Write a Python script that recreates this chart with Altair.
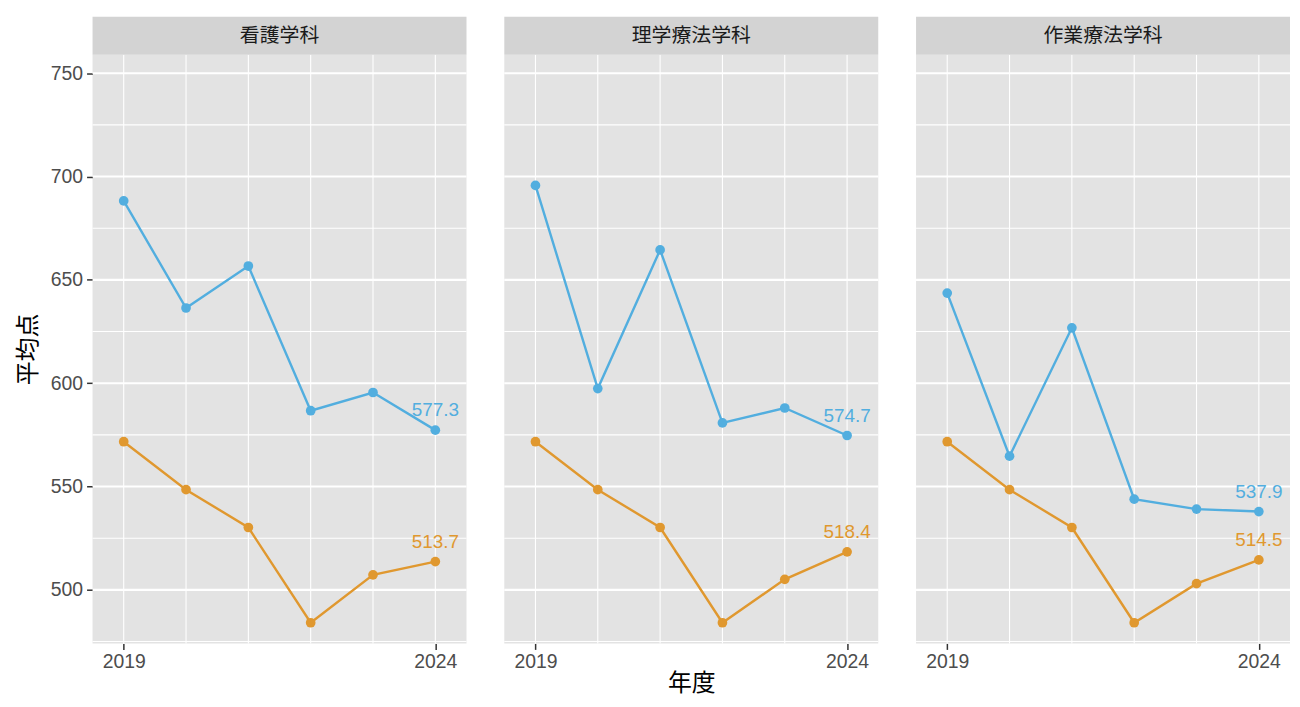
import altair as alt
import pandas as pd

# ---- data ----
years = [2019, 2020, 2021, 2022, 2023, 2024]
departments = ["看護学科", "理学療法学科", "作業療法学科"]

nursing_dept = [688.2, 636.4, 656.7, 586.7, 595.5, 577.3]
pt_dept = [695.7, 597.4, 664.5, 580.8, 588.0, 574.7]
ot_dept = [643.6, 564.7, 626.8, 543.9, 539.1, 537.9]

nursing_base = [571.7, 548.5, 530.2, 484.1, 507.3, 513.7]
pt_base = [571.7, 548.5, 530.2, 484.1, 505.1, 518.4]
ot_base = [571.7, 548.5, 530.2, 484.1, 503.0, 514.5]

series_names = ["学科", "全体"]
series_colors = ["#52AEDF", "#E0982F"]

y_major = [500, 550, 600, 650, 700, 750]
y_minor = [475, 525, 575, 625, 675, 725]
x_ticks = [2019, 2024]

dept_values = {"看護学科": nursing_dept, "理学療法学科": pt_dept, "作業療法学科": ot_dept}
base_values = {"看護学科": nursing_base, "理学療法学科": pt_base, "作業療法学科": ot_base}

rows = []
for d in departments:
    for yr, v in zip(years, dept_values[d]):
        rows.append({"dept": d, "year": yr, "score": v, "series": series_names[0]})
    for yr, v in zip(years, base_values[d]):
        rows.append({"dept": d, "year": yr, "score": v, "series": series_names[1]})
df = pd.DataFrame(rows)

PW, PH = 376, 592
STRIP = 38
CJK = "Noto Sans CJK JP"
LAT = "Liberation Sans"

ys = alt.Scale(domain=[474.1, 759.0], nice=False, zero=False)
xs = alt.Scale(domain=[2018.5, 2024.5], nice=False, zero=False)
cs = alt.Scale(domain=series_names, range=series_colors)


def panel(i, d):
    sub = df[df.dept == d]
    if i == 0:
        yaxis = alt.Axis(values=y_major, title="平均点", titleFont=CJK, titleFontSize=24,
                         titleFontWeight="normal", titleColor="#000000", titlePadding=10,
                         labelFont=LAT, labelFontSize=19.5, labelColor="#4D4D4D",
                         labelPadding=4, tickSize=6, tickWidth=1.5, tickColor="#333333",
                         domain=False, grid=False)
    else:
        yaxis = None
    xaxis = alt.Axis(values=x_ticks, format="d", title=("年度" if i == 1 else None),
                     titleFont=CJK, titleFontSize=24, titleFontWeight="normal",
                     titleColor="#000000", titlePadding=1,
                     labelFont=LAT, labelFontSize=19.5, labelColor="#4D4D4D",
                     labelPadding=3, labelFlush=False, tickSize=6, tickWidth=1.5,
                     tickColor="#333333", domain=False, grid=False)

    def X(f):
        return alt.X(f, scale=xs, axis=xaxis)

    def Y(f):
        return alt.Y(f, scale=ys, axis=yaxis)

    gmin = alt.Chart(pd.DataFrame({"g": y_minor})).mark_rule(
        color="white", strokeWidth=1.1).encode(y=Y("g:Q"))
    gmaj = alt.Chart(pd.DataFrame({"g": y_major})).mark_rule(
        color="white", strokeWidth=2.1).encode(y=Y("g:Q"))
    gx = alt.Chart(pd.DataFrame({"yr": years})).mark_rule(
        color="white", strokeWidth=1.1).encode(x=X("yr:Q"))

    base = alt.Chart(sub)
    lines = base.mark_line(strokeWidth=2.4).encode(
        x=X("year:Q"), y=Y("score:Q"),
        color=alt.Color("series:N", scale=cs, legend=None), detail="series:N")
    pts = base.mark_point(filled=True, size=95, opacity=1).encode(
        x=X("year:Q"), y=Y("score:Q"),
        color=alt.Color("series:N", scale=cs, legend=None))
    labels = alt.Chart(sub[sub.year == years[-1]]).mark_text(
        dy=-20, fontSize=19, font=LAT).encode(
        x=X("year:Q"), y=Y("score:Q"),
        text=alt.Text("score:Q", format=".1f"),
        color=alt.Color("series:N", scale=cs, legend=None))

    strip_df = pd.DataFrame({"dept": [d]})
    strip = alt.Chart(strip_df).mark_rect(color="#D3D3D3").encode(
        x=alt.value(0), x2=alt.value(PW), y=alt.value(-STRIP), y2=alt.value(0))
    strip_text = alt.Chart(strip_df).mark_text(
        font=CJK, fontSize=20, color="#1A1A1A", baseline="middle").encode(
        x=alt.value(PW / 2), y=alt.value(-STRIP / 2), text="dept:N")

    return alt.layer(gmin, gmaj, gx, lines, pts, labels, strip, strip_text).properties(
        width=PW, height=PH)


chart = alt.hconcat(*[panel(i, d) for i, d in enumerate(departments)], spacing=34).properties(
    padding={"left": 8, "top": 7, "right": 0, "bottom": 0},
    background="white",
).configure_view(stroke=None, fill="#E3E3E3")

chart.save("out.html", embed_options={"renderer": "svg", "actions": False})
